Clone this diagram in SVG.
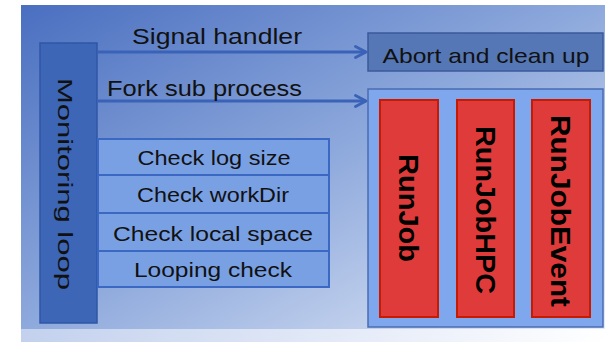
<svg xmlns="http://www.w3.org/2000/svg" width="607" height="342" viewBox="0 0 607 342">
<defs>
<linearGradient id="bg" x1="0" y1="0" x2="1" y2="1">
<stop offset="0" stop-color="#4a6fc0"/>
<stop offset="0.5" stop-color="#8ea9dc"/>
<stop offset="1" stop-color="#e4ebf8"/>
</linearGradient>
<linearGradient id="strip" x1="0" y1="0" x2="1" y2="0">
<stop offset="0" stop-color="#c3d1ee"/>
<stop offset="1" stop-color="#ffffff"/>
</linearGradient>
<marker id="ah" viewBox="0 0 14 14" refX="12" refY="7" markerWidth="14" markerHeight="14" markerUnits="userSpaceOnUse" orient="auto">
<path d="M1.5,1.5 L12,7 L1.5,12.5" fill="none" stroke="#3a63b8" stroke-width="2.8" stroke-linecap="round" stroke-linejoin="round"/>
</marker>
<style>
.t{font-family:"Liberation Sans",Arial,sans-serif;fill:#111;}
.ct{font-family:"Liberation Sans",Arial,sans-serif;fill:#111;font-size:21px;}
.chk{fill:#7aa0e4;stroke:#3a68c2;stroke-width:2;}
.run{fill:#e03b3b;stroke:#c81a00;stroke-width:2;}
.rt{font-family:"Liberation Sans",Arial,sans-serif;font-weight:bold;font-size:28px;fill:#000;}
.arrow{stroke:#3a63b8;stroke-width:3;fill:none;marker-end:url(#ah);}
</style>
</defs>
<rect x="0" y="0" width="607" height="342" fill="#ffffff"/>
<rect x="21" y="5" width="586" height="337" fill="url(#strip)"/>
<rect x="21" y="5" width="584" height="324" fill="url(#bg)"/>
<g id="connectors">
<line class="arrow" x1="98" y1="52" x2="366" y2="52"/>
<line class="arrow" x1="98" y1="101" x2="366" y2="101"/>
<text class="t" x="217" y="44" font-size="22" text-anchor="middle" textLength="170" lengthAdjust="spacingAndGlyphs">Signal handler</text>
<text class="t" x="107" y="96" font-size="22" textLength="195" lengthAdjust="spacingAndGlyphs">Fork sub process</text>
</g>
<g id="monitoring-loop">
<rect x="40" y="43" width="57" height="280" fill="#3d66b6" stroke="#2f57a6" stroke-width="1.5"/>
<text class="t" transform="translate(58,184) rotate(90)" font-size="21" text-anchor="middle" textLength="212" lengthAdjust="spacingAndGlyphs">Monitoring loop</text>
</g>
<g id="check-log-size">
<rect class="chk" x="98" y="139" width="231" height="36"/>
<text class="ct" x="214" y="165" text-anchor="middle" textLength="153" lengthAdjust="spacingAndGlyphs">Check log size</text>
</g>
<g id="check-workdir">
<rect class="chk" x="98" y="175" width="231" height="38"/>
<text class="ct" x="213" y="202" text-anchor="middle" textLength="152" lengthAdjust="spacingAndGlyphs">Check workDir</text>
</g>
<g id="check-local-space">
<rect class="chk" x="98" y="213" width="231" height="38"/>
<text class="ct" x="213" y="241" text-anchor="middle" textLength="200" lengthAdjust="spacingAndGlyphs">Check local space</text>
</g>
<g id="looping-check">
<rect class="chk" x="98" y="251" width="231" height="36"/>
<text class="ct" x="213" y="277" text-anchor="middle" textLength="158" lengthAdjust="spacingAndGlyphs">Looping check</text>
</g>
<g id="abort">
<rect x="368" y="33" width="235" height="38" fill="#5577b6" stroke="#3b5a9c" stroke-width="1.5"/>
<text class="t" x="486" y="63" font-size="21" text-anchor="middle" textLength="207" lengthAdjust="spacingAndGlyphs">Abort and clean up</text>
</g>
<g id="subprocess">
<rect x="368" y="89" width="235" height="238" fill="#7ea7ee" stroke="#4a6cb0" stroke-width="1.5"/>
</g>
<g id="runjob">
<rect class="run" x="380" y="100" width="58" height="217"/>
<text class="rt" transform="translate(399,208) rotate(90)" text-anchor="middle" textLength="108" lengthAdjust="spacingAndGlyphs">RunJob</text>
</g>
<g id="runjobhpc">
<rect class="run" x="457" y="100" width="57" height="217"/>
<text class="rt" transform="translate(476,210) rotate(90)" text-anchor="middle" textLength="168" lengthAdjust="spacingAndGlyphs">RunJobHPC</text>
</g>
<g id="runjobevent">
<rect class="run" x="532" y="100" width="58" height="217"/>
<text class="rt" transform="translate(551,211) rotate(90)" text-anchor="middle" textLength="192" lengthAdjust="spacingAndGlyphs">RunJobEvent</text>
</g>
</svg>
